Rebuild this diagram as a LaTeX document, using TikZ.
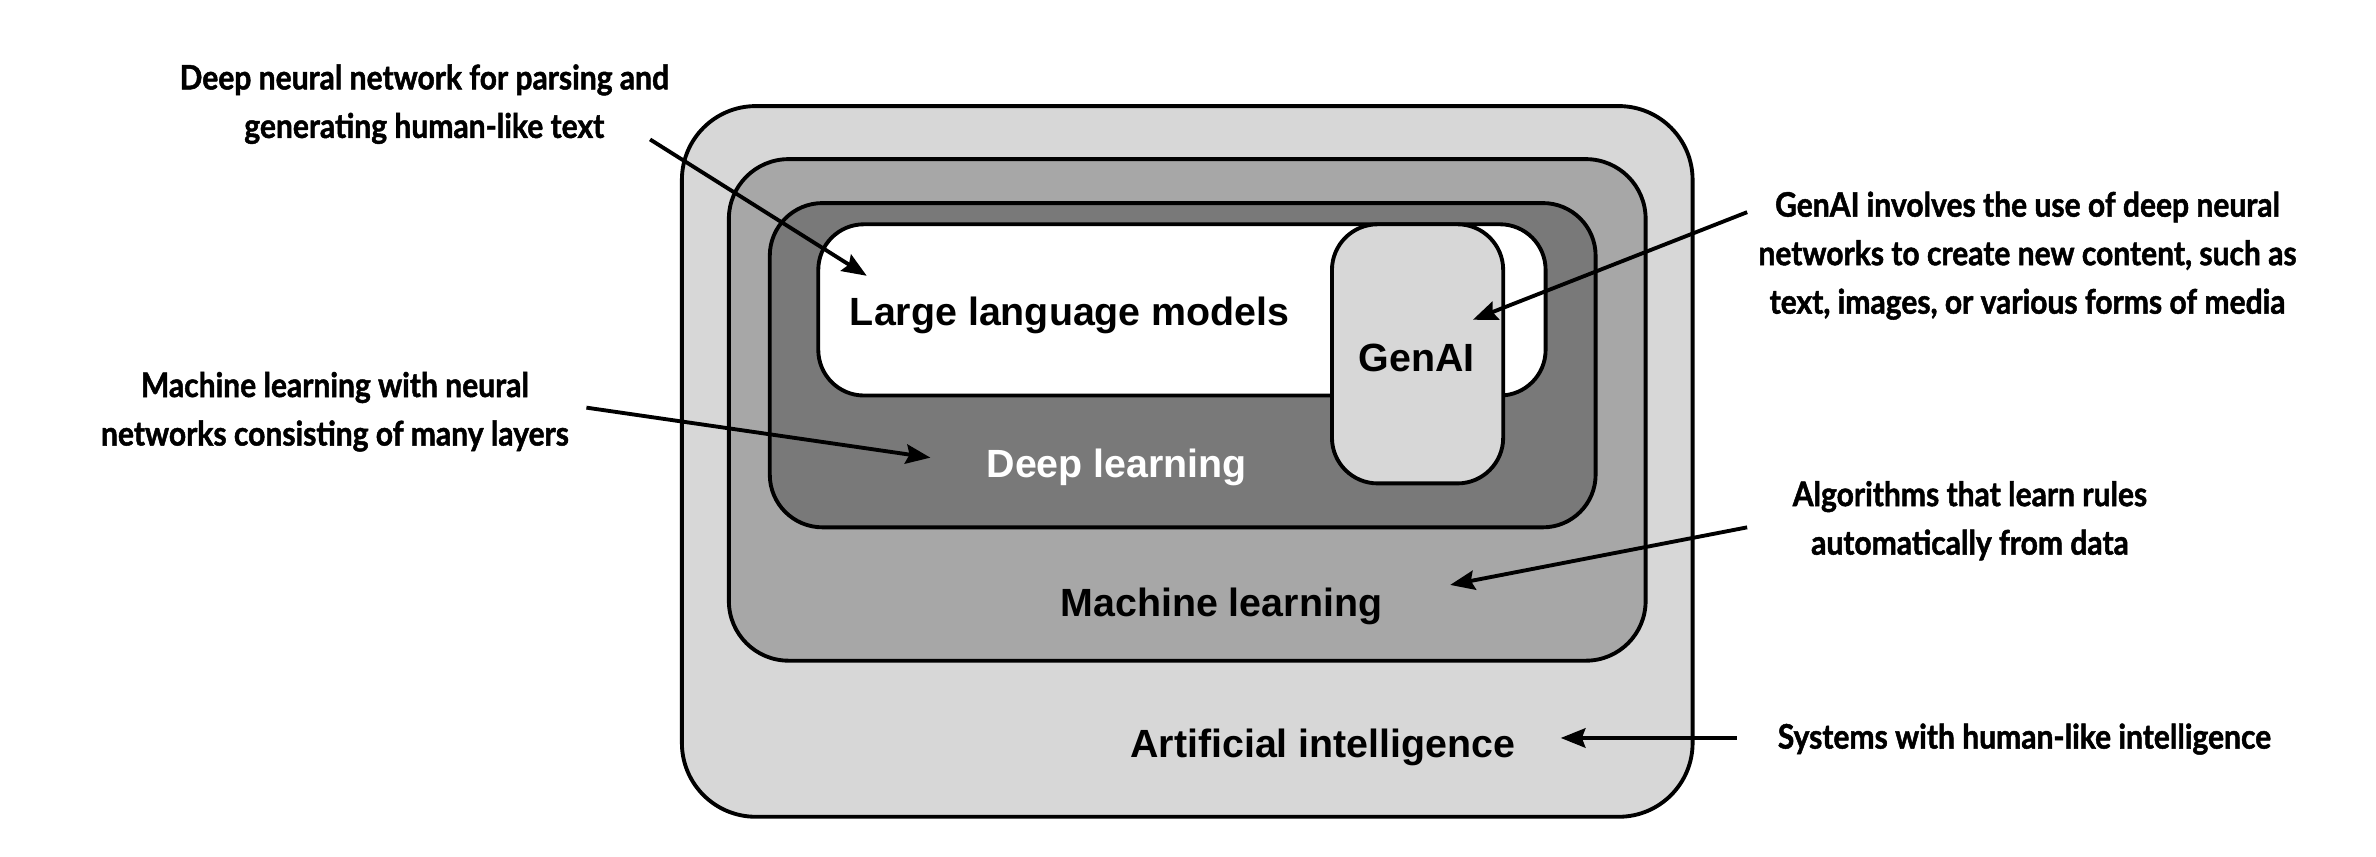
\documentclass[tikz,border=0pt]{standalone}
\usepackage{fontspec}
\setmainfont{Liberation Sans}
\newfontfamily\annfont[FakeStretch=0.89, FakeBold=1.4]{Lato}
\usetikzlibrary{arrows.meta}
\definecolor{aigray}{HTML}{D7D7D7}
\definecolor{mlgray}{HTML}{A7A7A7}
\definecolor{dlgray}{HTML}{797979}
\definecolor{gengray}{HTML}{D7D7D7}
\begin{document}
\begin{tikzpicture}[x=0.015153cm,y=-0.015153cm,
  box/.style={draw=black, line width=1.1pt},
  lbl/.style={font=\fontsize{11.2}{13}\selectfont\bfseries, inner sep=0pt, anchor=base},
  ann/.style={font=\annfont\bfseries\fontsize{9.6}{13.8}\selectfont, align=center, inner sep=0pt, anchor=base},
  arr/.style={-{Stealth[length=7pt,width=5.5pt,inset=1pt]}, line width=1.1pt}]
\useasboundingbox (0,0) rectangle (1568,565);
\fill[white] (0,0) rectangle (1568,565);
% boxes
\draw[box, fill=aigray, rounded corners=21pt] (450,70) rectangle (1117,539);
\draw[box, fill=mlgray, rounded corners=17pt] (481,105) rectangle (1086,436);
\draw[box, fill=dlgray, rounded corners=15pt] (508,134) rectangle (1053,348);
\draw[box, fill=white, rounded corners=13pt] (540,148) rectangle (1020,261);
\draw[box, fill=gengray, rounded corners=13pt] (879,148) rectangle (992,319);
% box labels
\node[lbl] (llm) at (706,215) {Large language models};
\node[lbl] (gen) at (935,245) {GenAI};
\node[lbl, text=white] (dl) at (737,315) {Deep learning};
\node[lbl] (ml) at (806,407) {Machine learning};
\node[lbl] (ai) at (873,500) {Artificial intelligence};
% annotations (base = baseline of last line)
\node[ann] (a1) at (280,91) {Deep neural network for parsing and\\generating human-like text};
\node[ann] (a2) at (221,294) {Machine learning with neural\\networks consisting of many layers};
\node[ann] (a3) at (1338,207) {GenAI involves the use of deep neural\\networks to create new content, such as\\text, images, or various forms of media};
\node[ann] (a4) at (1300,366) {Algorithms that learn rules\\automatically from data};
\node[ann] (a5) at (1336,494) {Systems with human-like intelligence};
% arrow ends
\coordinate (t1) at (429,92);   \coordinate (h1) at (572,182);
\coordinate (t2) at (387,269);  \coordinate (h2) at (614,302);
\coordinate (t3) at (1153,140); \coordinate (h3) at (972,211);
\coordinate (t4) at (1153,348); \coordinate (h4) at (957,386);
\coordinate (t5) at (1146,487); \coordinate (h5) at (1030,487);
\draw[arr] (t1) -- (h1);
\draw[arr] (t2) -- (h2);
\draw[arr] (t3) -- (h3);
\draw[arr] (t4) -- (h4);
\draw[arr] (t5) -- (h5);
\end{tikzpicture}
\end{document}
